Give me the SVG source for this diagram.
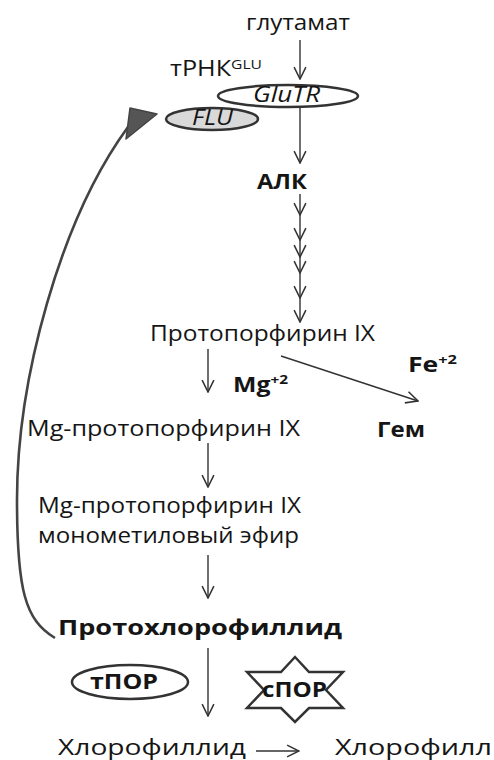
<svg xmlns="http://www.w3.org/2000/svg" width="494" height="760" viewBox="0 0 494 760">
<defs>
<style>
.t{font-family:"Open Sans","DejaVu Sans",sans-serif;fill:#151515;font-size:21px}
.b{font-weight:bold}
.i{font-style:italic}
.ln{stroke:#333;stroke-width:1.4;fill:none}
.el{stroke:#333;stroke-width:2.5}
</style>
<marker id="ah" viewBox="0 0 10 10" refX="9.5" refY="5" markerWidth="14" markerHeight="14" markerUnits="userSpaceOnUse" orient="auto">
<path d="M1,0.8 L9.5,5 L1,9.2" fill="none" stroke="#333" stroke-width="1.1"/>
</marker>
</defs>
<rect width="494" height="760" fill="#fff"/>

<g id="connectors">
<line class="ln" x1="300" y1="40" x2="300" y2="79" marker-end="url(#ah)"/>
<line class="ln" x1="300" y1="107" x2="300" y2="163" marker-end="url(#ah)"/>
<line class="ln" x1="300" y1="194" x2="300" y2="215" marker-end="url(#ah)"/>
<line class="ln" x1="300" y1="215" x2="300" y2="240" marker-end="url(#ah)"/>
<line class="ln" x1="300" y1="240" x2="300" y2="257" marker-end="url(#ah)"/>
<line class="ln" x1="300" y1="257" x2="300" y2="273" marker-end="url(#ah)"/>
<line class="ln" x1="300" y1="273" x2="300" y2="298" marker-end="url(#ah)"/>
<line class="ln" x1="300" y1="298" x2="300" y2="322" marker-end="url(#ah)"/>
<line class="ln" x1="208" y1="349" x2="208" y2="392" marker-end="url(#ah)"/>
<line class="ln" x1="281" y1="356" x2="418" y2="401" marker-end="url(#ah)"/>
<line class="ln" x1="208" y1="443" x2="208" y2="487" marker-end="url(#ah)"/>
<line class="ln" x1="208" y1="555" x2="208" y2="598" marker-end="url(#ah)"/>
<line class="ln" x1="208" y1="648" x2="208" y2="716" marker-end="url(#ah)"/>
<line class="ln" x1="256" y1="751" x2="299" y2="751" marker-end="url(#ah)"/>
<path d="M55,638 C25,620 17,590 17,500 C17,380 60,220 128,127" fill="none" stroke="#444" stroke-width="2.6"/>
<polygon points="130,108 157,114 126,139" fill="#555" stroke="#444" stroke-width="1.5" stroke-linejoin="round"/>
</g>

<g id="glutamate"><text class="t" x="246" y="30" textLength="104" lengthAdjust="spacingAndGlyphs">глутамат</text></g>
<g id="trna"><text class="t" x="170" y="76" font-size="19" textLength="92" lengthAdjust="spacingAndGlyphs">тРНК<tspan font-size="13" dy="-7">GLU</tspan></text></g>
<g id="glutr">
<ellipse class="el" cx="288" cy="96" rx="70" ry="11" fill="#fff"/>
<text class="t i" x="253" y="102" font-size="18" textLength="67" lengthAdjust="spacingAndGlyphs">GluTR</text>
</g>
<g id="flu">
<ellipse class="el" cx="212" cy="119" rx="46" ry="11" fill="#d9d9d9"/>
<text class="t i" x="192" y="125" font-size="18" textLength="41" lengthAdjust="spacingAndGlyphs">FLU</text>
</g>
<g id="alk"><text class="t b" x="257" y="189" textLength="50" lengthAdjust="spacingAndGlyphs">АЛК</text></g>
<g id="protoporphyrin"><text class="t" x="150" y="341" textLength="225" lengthAdjust="spacingAndGlyphs">Протопорфирин IX</text></g>
<g id="mg"><text class="t b" x="233" y="392" font-size="20" textLength="55" lengthAdjust="spacingAndGlyphs">Mg<tspan font-size="13" dy="-8">+2</tspan></text></g>
<g id="fe"><text class="t b" x="408" y="372" font-size="20" textLength="49" lengthAdjust="spacingAndGlyphs">Fe<tspan font-size="13" dy="-8">+2</tspan></text></g>
<g id="heme"><text class="t b" x="377" y="437" textLength="48" lengthAdjust="spacingAndGlyphs">Гем</text></g>
<g id="mgproto"><text class="t" x="27" y="436" textLength="273" lengthAdjust="spacingAndGlyphs">Mg-протопорфирин IX</text></g>
<g id="mgprotome">
<text class="t" x="38" y="513" textLength="263" lengthAdjust="spacingAndGlyphs">Mg-протопорфирин IX</text>
<text class="t" x="38" y="543" textLength="261" lengthAdjust="spacingAndGlyphs">монометиловый эфир</text>
</g>
<g id="protochlorophyllide"><text class="t b" x="58" y="635" font-size="22" textLength="284" lengthAdjust="spacingAndGlyphs">Протохлорофиллид</text></g>
<g id="tpor">
<ellipse class="el" cx="130" cy="682" rx="58" ry="17" fill="#fff"/>
<text class="t b" x="90" y="689" font-size="20" textLength="68" lengthAdjust="spacingAndGlyphs">тПОР</text>
</g>
<g id="spor">
<polygon points="295,657 309,672 343,672 326,690 343,708 309,708 295,722 281,708 247,708 264,690 247,672 281,672" fill="#fff" stroke="#333" stroke-width="2.5" stroke-linejoin="miter"/>
<text class="t b" x="262" y="697" font-size="20" textLength="65" lengthAdjust="spacingAndGlyphs">сПОР</text>
</g>
<g id="chlorophyllide"><text class="t" x="58" y="755" font-size="22" textLength="188" lengthAdjust="spacingAndGlyphs">Хлорофиллид</text></g>
<g id="chlorophyll"><text class="t" x="335" y="755" font-size="22" textLength="157" lengthAdjust="spacingAndGlyphs">Хлорофилл</text></g>
</svg>
